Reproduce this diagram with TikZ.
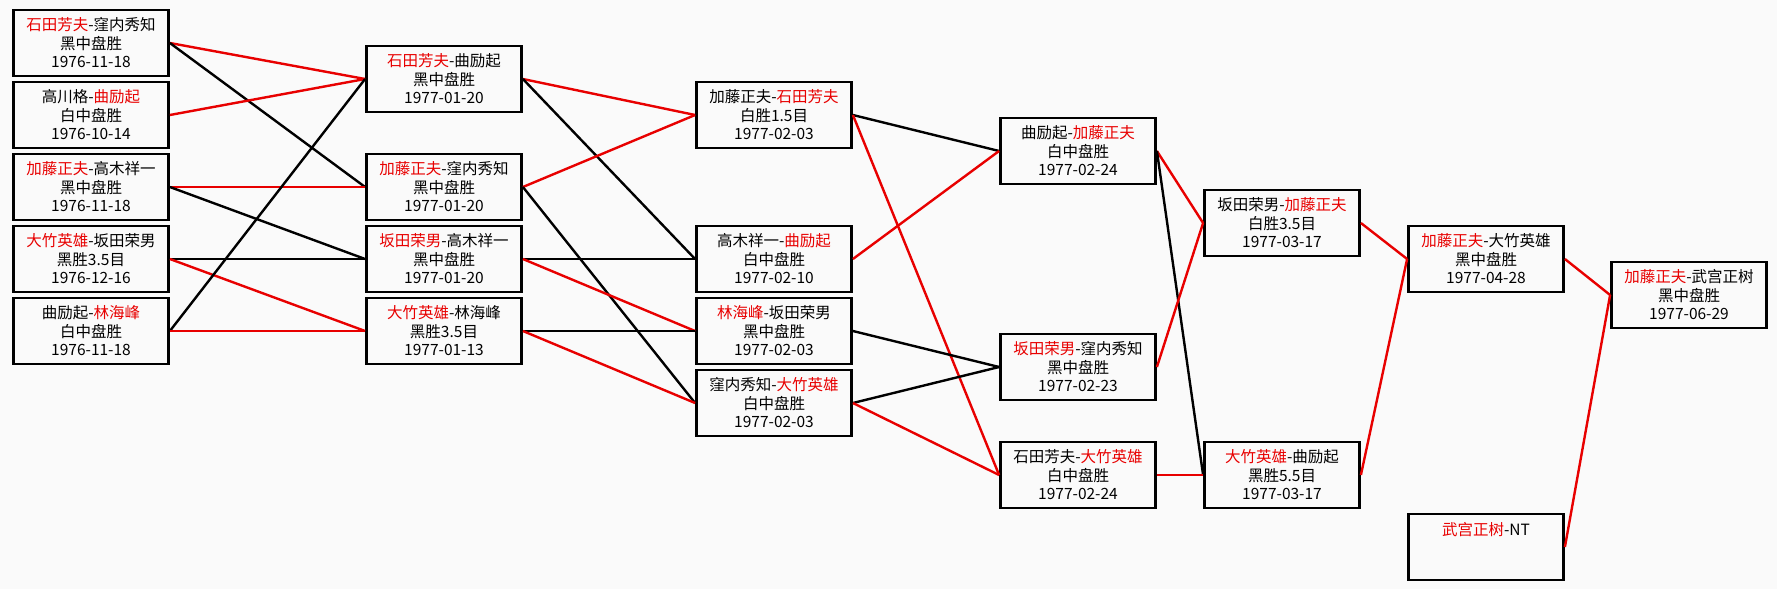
\documentclass[tikz,border=0pt]{standalone}
\usepackage{fontspec}
\setmainfont{Noto Sans CJK SC}
\usepackage{xcolor}
\usetikzlibrary{positioning}
\definecolor{winred}{RGB}{232,0,0}
\definecolor{paper}{RGB}{250,250,250}
\newcommand{\wn}[1]{\textcolor{winred}{#1}}

\begin{document}
\begin{tikzpicture}[
  x=1pt, y=1pt,
  game/.style={draw=black, fill=paper, line width=2.8pt, minimum width=155pt,
               minimum height=66pt, inner sep=0pt, align=center,
               font=\fontsize{15.5}{18.5}\selectfont},
  won/.style={draw=winred, line width=2.4pt},
  lost/.style={draw=black, line width=2.4pt}]
  \useasboundingbox[fill=paper] (0,0) rectangle (1777,-589);
  % round 1
  \node[game] (a1) at (91,-43)  {\wn{石田芳夫}-窪内秀知\\黑中盘胜\\1976-11-18};
  \node[game] (a2) at (91,-115) {高川格-\wn{曲励起}\\白中盘胜\\1976-10-14};
  \node[game] (a3) at (91,-187) {\wn{加藤正夫}-高木祥一\\黑中盘胜\\1976-11-18};
  \node[game] (a4) at (91,-259) {\wn{大竹英雄}-坂田荣男\\黑胜3.5目\\1976-12-16};
  \node[game] (a5) at (91,-331) {曲励起-\wn{林海峰}\\白中盘胜\\1976-11-18};
  % round 2
  \node[game] (b1) at (444,-79)  {\wn{石田芳夫}-曲励起\\黑中盘胜\\1977-01-20};
  \node[game] (b2) at (444,-187) {\wn{加藤正夫}-窪内秀知\\黑中盘胜\\1977-01-20};
  \node[game] (b3) at (444,-259) {\wn{坂田荣男}-高木祥一\\黑中盘胜\\1977-01-20};
  \node[game] (b4) at (444,-331) {\wn{大竹英雄}-林海峰\\黑胜3.5目\\1977-01-13};
  % round 3
  \node[game] (c1) at (774,-115) {加藤正夫-\wn{石田芳夫}\\白胜1.5目\\1977-02-03};
  \node[game] (c2) at (774,-259) {高木祥一-\wn{曲励起}\\白中盘胜\\1977-02-10};
  \node[game] (c3) at (774,-331) {\wn{林海峰}-坂田荣男\\黑中盘胜\\1977-02-03};
  \node[game] (c4) at (774,-403) {窪内秀知-\wn{大竹英雄}\\白中盘胜\\1977-02-03};
  % round 4
  \node[game] (d1) at (1078,-151) {曲励起-\wn{加藤正夫}\\白中盘胜\\1977-02-24};
  \node[game] (d2) at (1078,-367) {\wn{坂田荣男}-窪内秀知\\黑中盘胜\\1977-02-23};
  \node[game] (d3) at (1078,-475) {石田芳夫-\wn{大竹英雄}\\白中盘胜\\1977-02-24};
  % round 5
  \node[game] (e1) at (1282,-223) {坂田荣男-\wn{加藤正夫}\\白胜3.5目\\1977-03-17};
  \node[game] (e2) at (1282,-475) {\wn{大竹英雄}-曲励起\\黑胜5.5目\\1977-03-17};
  % final
  \node[game] (f1) at (1486,-259) {\wn{加藤正夫}-大竹英雄\\黑中盘胜\\1977-04-28};
  \node[game] (f2) at (1486,-547) {\wn{武宫正树}-NT\\\mbox{}\\\mbox{}};
  \node[game] (g1) at (1689,-295) {\wn{加藤正夫}-武宫正树\\黑中盘胜\\1977-06-29};
  % connectors
  \draw[won]  (a1.east) -- (b1.west);
  \draw[lost] (a1.east) -- (b2.west);
  \draw[won]  (a2.east) -- (b1.west);
  \draw[won]  (a3.east) -- (b2.west);
  \draw[lost] (a3.east) -- (b3.west);
  \draw[lost] (a4.east) -- (b3.west);
  \draw[won]  (a4.east) -- (b4.west);
  \draw[lost] (a5.east) -- (b1.west);
  \draw[won]  (a5.east) -- (b4.west);
  \draw[won]  (b1.east) -- (c1.west);
  \draw[lost] (b1.east) -- (c2.west);
  \draw[won]  (b2.east) -- (c1.west);
  \draw[lost] (b2.east) -- (c4.west);
  \draw[lost] (b3.east) -- (c2.west);
  \draw[won]  (b3.east) -- (c3.west);
  \draw[lost] (b4.east) -- (c3.west);
  \draw[won]  (b4.east) -- (c4.west);
  \draw[lost] (c1.east) -- (d1.west);
  \draw[won]  (c1.east) -- (d3.west);
  \draw[won]  (c2.east) -- (d1.west);
  \draw[lost] (c3.east) -- (d2.west);
  \draw[lost] (c4.east) -- (d2.west);
  \draw[won]  (c4.east) -- (d3.west);
  \draw[won]  (d1.east) -- (e1.west);
  \draw[lost] (d1.east) -- (e2.west);
  \draw[won]  (d2.east) -- (e1.west);
  \draw[won]  (d3.east) -- (e2.west);
  \draw[won]  (e1.east) -- (f1.west);
  \draw[won]  (e2.east) -- (f1.west);
  \draw[won]  (f1.east) -- (g1.west);
  \draw[won]  (f2.east) -- (g1.west);
\end{tikzpicture}
\end{document}
